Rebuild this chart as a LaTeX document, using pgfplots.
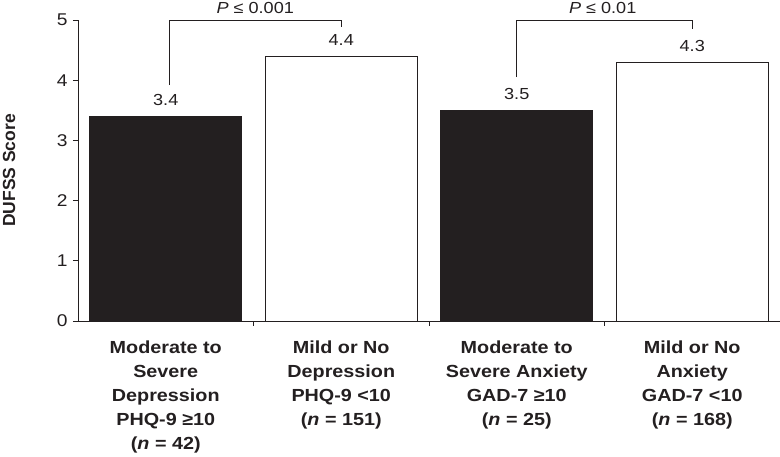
\documentclass[border=0pt]{standalone}
\usepackage{pgfplots}
\pgfplotsset{compat=1.18}
\usepackage{fontspec}
\setmainfont{Liberation Sans}[FakeStretch=1.13]
\newfontfamily\ylabfont{Liberation Sans}
\definecolor{ink}{HTML}{231F20}
\begin{document}
\begin{tikzpicture}
\path[use as bounding box] (-78pt,-136pt) rectangle (702pt,321pt);
\begin{axis}[
  at={(0pt,0pt)}, anchor=south west,
  scale only axis, width=702pt, height=301pt,
  xmin=-0.5, xmax=3.5, ymin=0, ymax=5,
  clip=false,
  axis x line*=bottom, axis y line*=left,
  axis line style={ink, line width=0.8pt, -},
  tick align=outside,
  major tick length=5pt,
  tick style={ink, line width=0.8pt},
  ytick={0,1,2,3,4,5},
  yticklabel style={font=\fontsize{17}{19}\selectfont, text=ink, xshift=-2pt},
  xtick={0.5,1.5,2.5,3.5},
  xticklabels={},
  extra x ticks={0,1,2,3},
  extra x tick style={tick style={draw=none}},
  extra x tick labels={
    {Moderate to\\Severe\\Depression\\PHQ-9 ≥10\\(\textit{n} = 42)},
    {Mild or No\\Depression\\PHQ-9 <10\\(\textit{n} = 151)},
    {Moderate to\\Severe Anxiety\\GAD-7 ≥10\\(\textit{n} = 25)},
    {Mild or No\\Anxiety\\GAD-7 <10\\(\textit{n} = 168)}},
  xticklabel style={font=\fontsize{17.5}{24}\selectfont\bfseries, align=center, text=ink, anchor=north, yshift=-11pt},
  every axis y label/.style={at={(axis description cs:-0.0983,0.5)}, rotate=90, anchor=center},
  ylabel={DUFSS Score},
  ylabel style={font=\ylabfont\fontsize{17.5}{20}\selectfont\bfseries, text=ink},
  /pgf/number format/assume math mode=true,
  bar width=0.866,
  nodes near coords,
  nodes near coords style={font=\fontsize{16}{19}\selectfont, text=ink, anchor=center, yshift=16pt,
    /pgf/number format/fixed, /pgf/number format/fixed zerofill, /pgf/number format/precision=1},
]
\addplot[ybar, fill=ink, draw=ink, line width=0.8pt] coordinates {(0,3.4) (2,3.5)};
\addplot[ybar, fill=white, draw=ink, line width=0.8pt] coordinates {(1,4.4) (3,4.3)};
\draw[ink, line width=0.8pt] (axis cs:0.02,3.92) -- (axis cs:0.02,5) -- (axis cs:1,5) -- (axis cs:1,4.88);
\draw[ink, line width=0.8pt] (axis cs:2,4.05) -- (axis cs:2,5) -- (axis cs:3,5) -- (axis cs:3,4.85);
\node[font=\fontsize{16}{19}\selectfont, text=ink] at (axis cs:0.51,5.2) {\textit{P} ≤ 0.001};
\node[font=\fontsize{16}{19}\selectfont, text=ink] at (axis cs:2.49,5.2) {\textit{P} ≤ 0.01};
\end{axis}
\end{tikzpicture}
\end{document}
